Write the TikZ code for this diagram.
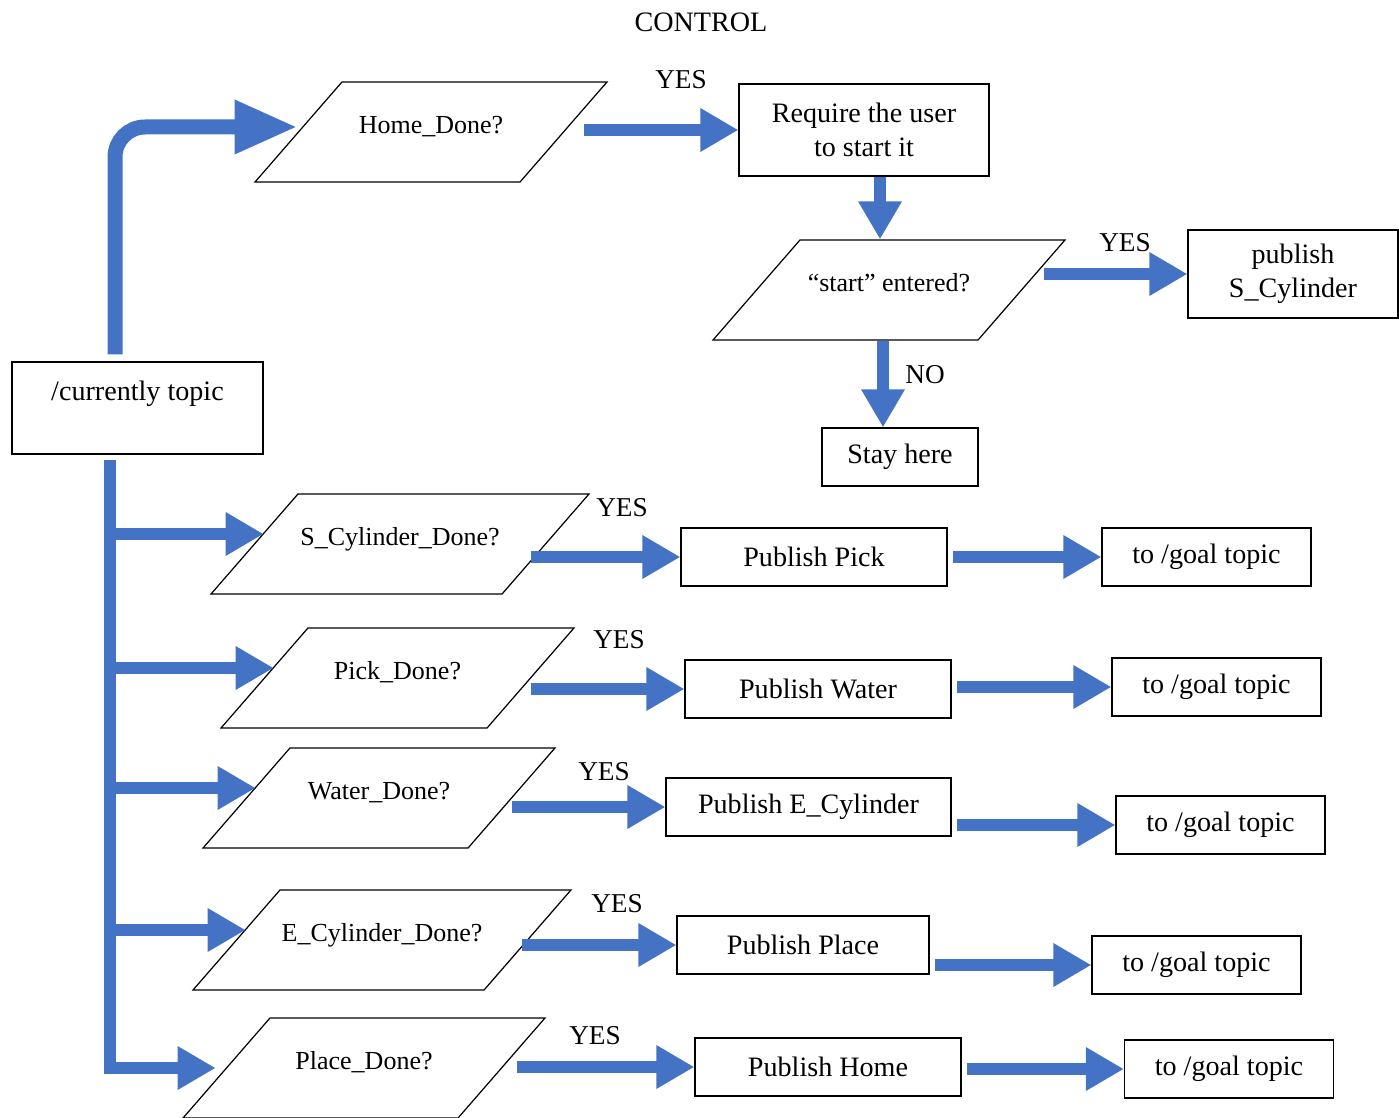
\documentclass[tikz,border=0pt]{standalone}
\usepackage{fontspec}
\setmainfont{Liberation Serif}
\usetikzlibrary{arrows.meta,shapes.geometric}
\definecolor{FlowBlue}{HTML}{4472C4}
\tikzset{flow/.style={draw=FlowBlue,line width=0.24cm,-{Triangle[length=0.76cm,width=0.82cm]}},bigflow/.style={draw=FlowBlue,line width=0.3cm,rounded corners=0.6cm,-{Triangle[length=1.26cm,width=1cm]}},procbox/.style={draw,line width=0.7pt,inner sep=0pt,minimum height=1.16cm,align=center,font=\fontsize{16}{19.3}\selectfont},decision/.style={draw,line width=0.7pt,trapezium,trapezium left angle=49,trapezium right angle=131,trapezium stretches body,text height=0.3cm,text depth=0.24cm,inner xsep=0pt,inner ysep=0.73cm,minimum height=0pt,font=\fontsize{14.8}{18}\selectfont},answer/.style={font=\fontsize{15.5}{18}\selectfont}}

\begin{document}
\begin{tikzpicture}[x=0.02cm,y=-0.02cm]
\useasboundingbox (0,0) rectangle (1399,1118);
\node[font=\fontsize{16}{19}\selectfont] (title) at (701,22) {CONTROL};
% start part
\node[procbox,minimum width=5.02cm,minimum height=1.84cm] (cur) at (137.5,408) {/currently topic\\\mbox{}};
\node[decision,minimum width=7.04cm] (home) at (431,132) {Home\_Done?};
\node[procbox,minimum width=5cm,minimum height=1.84cm] (req) at (864,130) {Require the user\\to start it};
\node[decision,minimum width=7.04cm] (start) at (889,290) {``start'' entered?};
\node[procbox,minimum width=4.2cm,minimum height=1.76cm] (pubs) at (1293,274) {publish\\S\_Cylinder};
\node[procbox,minimum width=3.12cm] (stay) at (900,457) {Stay here};
\node[answer] (yes0) at (681,80) {YES};\node[answer] (yesS) at (1125,243) {YES};\node[answer] (no0) at (925,375) {NO};
% one row per stage
\node[decision,minimum width=7.56cm] (dsc) at (400,544) {S\_Cylinder\_Done?};
\node[procbox,minimum width=5.32cm] (ppick) at (814,557) {Publish Pick};
\node[procbox,minimum width=4.18cm] (gpick) at (1206.5,557) {to /goal topic};
\node[decision,minimum width=7.06cm] (dpick) at (397.5,678) {Pick\_Done?};
\node[procbox,minimum width=5.32cm] (pwater) at (818,689) {Publish Water};
\node[procbox,minimum width=4.18cm] (gwater) at (1216.5,687) {to /goal topic};
\node[decision,minimum width=7.04cm] (dwater) at (379,798) {Water\_Done?};
\node[procbox,minimum width=5.7cm] (pecyl) at (808.5,807) {Publish E\_Cylinder};
\node[procbox,minimum width=4.18cm] (gecyl) at (1220.5,825) {to /goal topic};
\node[decision,minimum width=7.56cm] (decyl) at (382,940) {E\_Cylinder\_Done?};
\node[procbox,minimum width=5.04cm] (pplace) at (803,945) {Publish Place};
\node[procbox,minimum width=4.18cm] (gplace) at (1196.5,965) {to /goal topic};
\node[decision,minimum width=7.24cm] (dplace) at (364,1068) {Place\_Done?};
\node[procbox,minimum width=5.32cm] (phome) at (828,1067) {Publish Home};
\node[procbox,minimum width=4.18cm] (ghome) at (1229,1069) {to /goal topic};
\node[answer] (yes1) at (622,508) {YES};\node[answer] (yes2) at (619,640) {YES};\node[answer] (yes3) at (604,772) {YES};\node[answer] (yes4) at (617,904) {YES};\node[answer] (yes5) at (595,1036) {YES};
% arrows
\coordinate (trunk) at (110,460);
\draw[bigflow] ([xshift=-0.45cm,yshift=0.14cm]cur.north) |- ([yshift=0.1cm]home.west);
\draw[flow] ([xshift=0.4cm]home.east |- req.west) -- (req.west);
\draw[flow] ([xshift=0.32cm]req.south) -- ([xshift=0.32cm]req.south |- start.north);
\draw[flow] ([xshift=0.44cm]start.east |- pubs.west) -- (pubs.west);
\draw[flow] ([xshift=-0.34cm]stay.north |- start.south) -- ([xshift=-0.34cm]stay.north);
\draw[flow] (trunk) |- ([xshift=-0.2cm]dplace.west);
\draw[flow] ([yshift=0.2cm]trunk |- dsc.west) -- ([xshift=0.2cm,yshift=0.2cm]dsc.west);
\draw[flow] ([yshift=0.2cm]trunk |- dpick.west) -- ([xshift=0.2cm,yshift=0.2cm]dpick.west);
\draw[flow] ([yshift=0.2cm]trunk |- dwater.west) -- ([xshift=0.2cm,yshift=0.2cm]dwater.west);
\draw[flow] ([yshift=0.2cm]trunk |- decyl.west) -- ([xshift=0.2cm,yshift=0.2cm]decyl.west);
\draw[flow] ([xshift=-0.3cm]dsc.east |- ppick.west) -- (ppick.west);\draw[flow] ([xshift=0.1cm]ppick.east |- gpick.west) -- (gpick.west);
\draw[flow] (dpick.east |- pwater.west) -- (pwater.west);\draw[flow] ([xshift=0.1cm]pwater.east |- gwater.west) -- (gwater.west);
\draw[flow] (dwater.east |- pecyl.west) -- (pecyl.west);\draw[flow] ([xshift=0.1cm]pecyl.east |- gecyl.west) -- (gecyl.west);
\draw[flow] ([xshift=-0.12cm]decyl.east |- pplace.west) -- (pplace.west);\draw[flow] ([xshift=0.1cm]pplace.east |- gplace.west) -- (gplace.west);
\draw[flow] ([xshift=0.3cm]dplace.east |- phome.west) -- (phome.west);\draw[flow] ([xshift=0.1cm]phome.east |- ghome.west) -- (ghome.west);
\end{tikzpicture}
\end{document}
